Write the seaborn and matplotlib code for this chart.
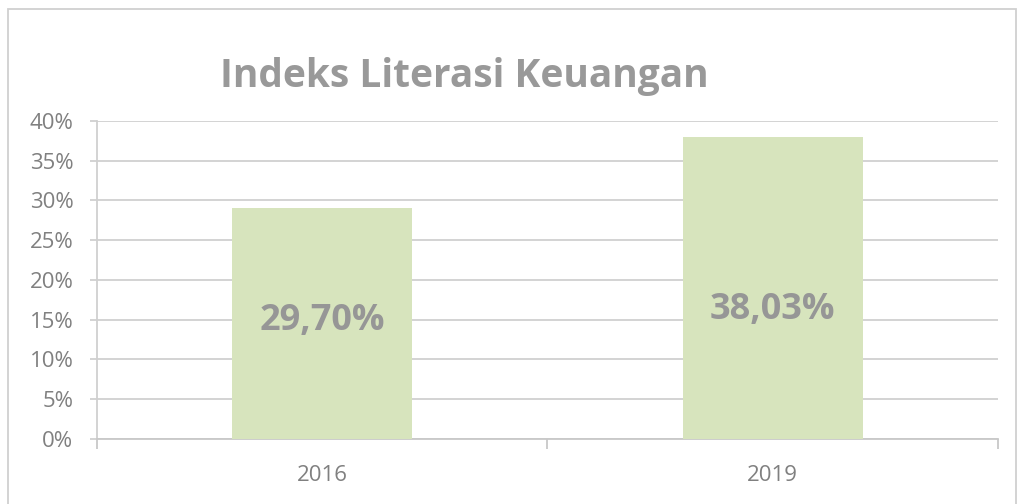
import matplotlib
matplotlib.use("Agg")
import matplotlib.pyplot as plt
import seaborn as sns
import pandas as pd
from matplotlib.ticker import FuncFormatter, FixedLocator

years = ["2016", "2019"]
values = [29.0, 38.03]
value_labels = ["29,70%", "38,03%"]
label_y = [14.8, 16.2]
title = "Indeks Literasi Keuangan"

sns.set_theme(style="white")
plt.rcParams["font.family"] = ["Open Sans", "DejaVu Sans"]

df = pd.DataFrame({"year": years, "value": values})

fig = plt.figure(figsize=(10.18, 5.04), dpi=100)
ax = fig.add_axes([0.0953, 0.129, 0.885, 0.631])

sns.barplot(data=df, x="year", y="value", color="#D7E4BD", saturation=1,
            width=0.4, ax=ax, zorder=3, linewidth=0)

ax.set_ylim(0, 40)
ax.set_xlim(-0.5, 1.5)
ax.set_yticks(range(0, 41, 5))
ax.yaxis.set_major_formatter(FuncFormatter(lambda v, p: f"{int(v)}%"))
ax.grid(axis="y", color="#D0D0D0", linewidth=1.3, zorder=0)
ax.grid(axis="x", visible=False)
ax.set_xlabel("")
ax.set_ylabel("")

for s in ["top", "right"]:
    ax.spines[s].set_visible(False)
ax.spines["left"].set_color("#D0D0D0")
ax.spines["left"].set_linewidth(1.3)
ax.spines["bottom"].set_color("#C8C8C8")
ax.spines["bottom"].set_linewidth(1.3)

ax.tick_params(axis="y", which="major", length=5, width=1.3, color="#D0D0D0",
               labelsize=16, labelcolor="#808080", pad=12, left=True)
ax.tick_params(axis="x", which="major", length=0, labelsize=16,
               labelcolor="#808080", pad=19, bottom=True)
ax.xaxis.set_minor_locator(FixedLocator([-0.5, 0.5, 1.5]))
ax.tick_params(axis="x", which="minor", length=7, width=1.3, color="#C8C8C8",
               bottom=True)

for i, (lab, yy) in enumerate(zip(value_labels, label_y)):
    ax.text(i, yy, lab, ha="center", va="center", fontsize=26,
            fontweight="bold", color="#969696", zorder=5)

fig.text(0.456, 0.849, title, ha="center", va="center", fontsize=28,
         fontweight="bold", color="#999999")

# outer chart frame
frame = plt.Rectangle((0.008, -0.1), 0.99, 1.082, transform=fig.transFigure,
                      fill=False, edgecolor="#D0D0D0", linewidth=1.3)
fig.add_artist(frame)

fig.savefig("out.png", dpi=100)
